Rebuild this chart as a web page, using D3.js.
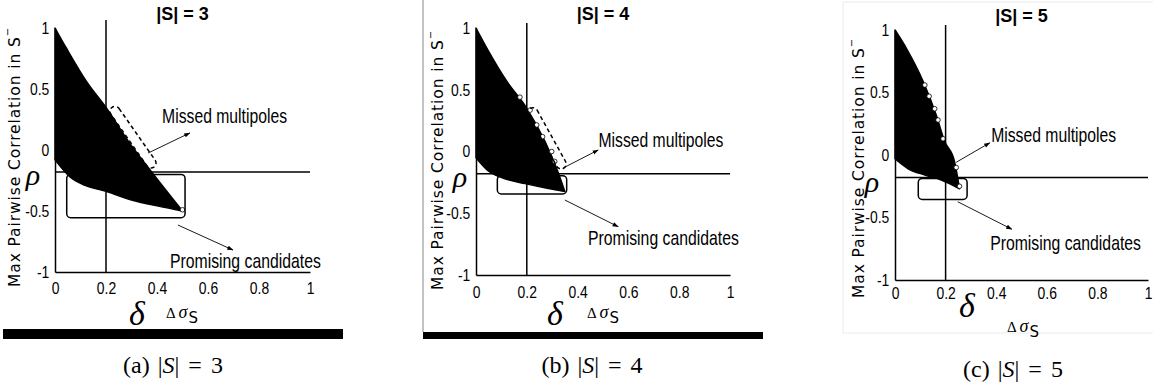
<!DOCTYPE html>
<html>
<head>
<meta charset="utf-8">
<script src="https://cdn.jsdelivr.net/npm/d3@7"></script>
<style>
  body { margin: 0; background: #fff; }
  svg { display: block; }
  .tick text { font-family: "Liberation Sans", Arial, sans-serif; font-size: 17px; fill: #000; }
  .domain { stroke: #000; stroke-width: 1.5px; }
  .ylab { font-family: "DejaVu Sans", sans-serif; font-size: 15.5px; letter-spacing: 0.9px; }
  .title { font-family: "Liberation Sans", Arial, sans-serif; font-weight: bold; font-size: 18px; }
  .note { font-family: "Liberation Sans", Arial, sans-serif; font-size: 20px; }
  .greek { font-family: "Liberation Serif", serif; font-style: italic; }
  .caption { font-family: "Liberation Serif", serif; font-size: 24px; }
</style>
</head>
<body>
<svg id="chart" width="1153" height="387"></svg>
<script>
// values
const setSizes = [3, 4, 5];
const panelNames = ["a", "b", "c"];
const xTicks = [0, 0.2, 0.4, 0.6, 0.8, 1];
const yTicks = [-1, -0.5, 0, 0.5, 1];
const deltaValue = 0.2;
const rhoValues = [-0.18, -0.18, -0.18];

// upper / lower edges of the filled point cloud, [delta sigma, max corr]
const upper3 = [[0, 1], [0.046, 0.83], [0.124, 0.56], [0.203, 0.34], [0.288, 0.07], [0.379, -0.18], [0.5, -0.5]];
const lower3 = [[0, -0.08], [0.059, -0.22], [0.118, -0.29], [0.203, -0.34], [0.3, -0.41], [0.405, -0.46], [0.5, -0.5]];
const upper4 = [[0, 1], [0.042, 0.84], [0.121, 0.57], [0.2, 0.35], [0.272, 0.08], [0.318, -0.14], [0.35, -0.325]];
const lower4 = [[0, -0.05], [0.05, -0.16], [0.114, -0.22], [0.193, -0.26], [0.285, -0.3], [0.35, -0.325]];
const upper5 = [[0, 1], [0.046, 0.85], [0.111, 0.59], [0.163, 0.32], [0.196, 0.11], [0.235, -0.05], [0.255, -0.27]];
const lower5 = [[0, -0.03], [0.052, -0.11], [0.118, -0.16], [0.183, -0.2], [0.255, -0.27]];

// stray points sitting on the cloud edge
const edge3 = [[0.5, -0.49]];
const edge4 = [[0.173, 0.44], [0.213, 0.335], [0.239, 0.215], [0.262, 0.12], [0.298, 0.0], [0.31, -0.08]];
const edge5 = [[0.118, 0.56], [0.135, 0.47], [0.157, 0.37], [0.17, 0.28], [0.19, 0.13], [0.242, -0.1], [0.255, -0.25]];

// "promising candidates" boxes [x0, x1, y0, y1] and "missed" dashed regions [x0, y0, x1, y1]
const promisingBoxes = [[0.046, 0.51, -0.2, -0.555], [0.084, 0.357, -0.196, -0.344], [0.092, 0.285, -0.187, -0.355]];
const missedRegions = [[0.216, 0.35, 0.38, -0.14], [0.206, 0.35, 0.337, -0.136], null];

const upperEdges = [upper3, upper4, upper5];
const lowerEdges = [lower3, lower4, lower5];
const edgePoints = [edge3, edge4, edge5];

// layout of each panel (pixels) and annotation anchors (data units)
const panels = [
  {left: 55, right: 310, top: 28, bottom: 272, tickPad: 10, ylabX: -35, ylabY: 15, titleY: 20,
   deltaTop: 1.066, rhoX: 33, rhoY: 185, deltaX: 137, deltaY: 325, sigX: 166, sigY: 318,
   missArrow: [0.365, -0.025, 0.529, 0.14], missText: [0.42, 0.22],
   promArrow: [0.482, -0.615, 0.698, -0.82], promText: [0.451, -0.967],
   bar: [3, 343, 329, 339], capX: 173, capY: 373},
  {left: 476, right: 730, top: 28, bottom: 275, tickPad: 11, ylabX: -33, ylabY: 15, titleY: 20,
   deltaTop: 1.04, rhoX: 460, rhoY: 187, deltaX: 555, deltaY: 325, sigX: 587, sigY: 318,
   missArrow: [0.341, -0.136, 0.481, 0.012], missText: [0.482, 0.036],
   promArrow: [0.35, -0.393, 0.56, -0.609], promText: [0.441, -0.757],
   bar: [423, 763, 332, 339], leftRule: 423, capX: 592, capY: 373},
  {left: 895, right: 1148, top: 30, bottom: 280, tickPad: 7, ylabX: -31, ylabY: 18, titleY: 22,
   deltaTop: 1.04, rhoX: 872, rhoY: 192, deltaX: 967, deltaY: 317, sigX: 1007, sigY: 332,
   missArrow: [0.242, -0.058, 0.375, 0.098], missText: [0.38, 0.104],
   promArrow: [0.248, -0.374, 0.462, -0.594], promText: [0.376, -0.76],
   frame: [843, 2, 1160, 333], capX: 1013, capY: 377}
];
const noteWidths = {"Missed multipoles": 125, "Promising candidates": 151};

const svg = d3.select("#chart");

svg.append("defs").append("marker")
  .attr("id", "head")
  .attr("viewBox", "0 0 10 10")
  .attr("refX", 9).attr("refY", 5)
  .attr("markerWidth", 7).attr("markerHeight", 7)
  .attr("orient", "auto-start-reverse")
  .append("path").attr("d", "M0,1.5 L10,5 L0,8.5 Z").attr("fill", "#000");

panels.forEach((p, i) => {
  const x = d3.scaleLinear().domain([0, 1]).range([p.left, p.right]);
  const y = d3.scaleLinear().domain([-1, 1]).range([p.bottom, p.top]);
  const g = svg.append("g");

  // decorations around the sub-figure
  if (p.frame) {
    g.append("rect").attr("x", p.frame[0]).attr("y", p.frame[1])
      .attr("width", p.frame[2] - p.frame[0]).attr("height", p.frame[3] - p.frame[1])
      .attr("fill", "none").attr("stroke", "#ececec").attr("stroke-width", 1);
  }
  if (p.leftRule) {
    g.append("line").attr("x1", p.leftRule).attr("x2", p.leftRule)
      .attr("y1", 0).attr("y2", p.bar[2])
      .attr("stroke", "#888").attr("stroke-width", 1);
  }
  if (p.bar) {
    g.append("rect").attr("x", p.bar[0]).attr("y", p.bar[2])
      .attr("width", p.bar[1] - p.bar[0]).attr("height", p.bar[3] - p.bar[2])
      .attr("fill", "#000");
  }

  // point cloud as a filled region: curved upper edge, back along the lower edge
  const edgeLine = d3.line().x(d => x(d[0])).y(d => y(d[1])).curve(d3.curveMonotoneX);
  const upPath = edgeLine(upperEdges[i]);
  const lowPath = edgeLine(lowerEdges[i].slice().reverse());
  g.append("path")
    .attr("d", upPath + "L" + lowPath.slice(1) + "Z")
    .attr("fill", "#000").attr("stroke", "#000").attr("stroke-width", 1.5)
    .attr("stroke-linejoin", "round");

  g.selectAll(".edge")
    .data(edgePoints[i])
    .join("circle")
    .attr("cx", d => x(d[0])).attr("cy", d => y(d[1]))
    .attr("r", 2.3)
    .attr("fill", "#fff").attr("stroke", "#000").attr("stroke-width", 0.8);

  // axes
  const xa = g.append("g")
    .attr("transform", `translate(0,${p.bottom})`)
    .call(d3.axisBottom(x).tickValues(xTicks).tickSize(0).tickPadding(p.tickPad).tickFormat(d => String(d)));
  const ya = g.append("g")
    .attr("transform", `translate(${p.left},0)`)
    .call(d3.axisLeft(y).tickValues(yTicks).tickSize(0).tickPadding(6).tickFormat(d => String(d)));
  // condensed look of the original tick font
  xa.selectAll(".tick text").attr("transform", "scale(0.82,1)");
  ya.selectAll(".tick text").attr("transform", "scale(0.82,1)").attr("x", -7);

  // threshold lines
  g.append("line")
    .attr("x1", x(0)).attr("x2", x(1))
    .attr("y1", y(rhoValues[i])).attr("y2", y(rhoValues[i]))
    .attr("stroke", "#000").attr("stroke-width", 1.5);
  g.append("line")
    .attr("x1", x(deltaValue)).attr("x2", x(deltaValue))
    .attr("y1", y(p.deltaTop)).attr("y2", y(-1) + 1)
    .attr("stroke", "#000").attr("stroke-width", 1.5);

  // promising candidates box
  const b = promisingBoxes[i];
  g.append("rect")
    .attr("x", x(b[0])).attr("y", y(b[2]))
    .attr("width", x(b[1]) - x(b[0])).attr("height", y(b[3]) - y(b[2]))
    .attr("rx", 4).attr("fill", "none").attr("stroke", "#000").attr("stroke-width", 1.5);

  // missed multipoles dashed capsule
  const m = missedRegions[i];
  if (m) {
    const x1 = x(m[0]), y1 = y(m[1]), x2 = x(m[2]), y2 = y(m[3]);
    const len = Math.hypot(x2 - x1, y2 - y1);
    const ang = Math.atan2(y2 - y1, x2 - x1) * 180 / Math.PI;
    const w = 5;
    g.append("rect")
      .attr("transform", `translate(${(x1 + x2) / 2 + 2},${(y1 + y2) / 2}) rotate(${ang})`)
      .attr("x", -len / 2).attr("y", -w).attr("width", len).attr("height", 2 * w)
      .attr("rx", w)
      .attr("fill", "none").attr("stroke", "#000").attr("stroke-width", 1.5)
      .attr("stroke-dasharray", "4,3");
  }

  // arrows + notes (squeezed horizontally like the narrow original font)
  [[p.missArrow, p.missText, "Missed multipoles"], [p.promArrow, p.promText, "Promising candidates"]]
    .forEach(([a, t, label]) => {
      g.append("line")
        .attr("x1", x(a[0])).attr("y1", y(a[1]))
        .attr("x2", x(a[2])).attr("y2", y(a[3]))
        .attr("stroke", "#000").attr("stroke-width", 0.9)
        .attr("marker-end", "url(#head)");
      const note = g.append("text").attr("class", "note").text(label);
      const sx = noteWidths[label] / note.node().getComputedTextLength();
      note.attr("transform", `translate(${x(t[0])},${y(t[1])}) scale(${sx},1)`);
    });

  // title
  g.append("text").attr("class", "title")
    .attr("x", (p.left + p.right) / 2).attr("y", p.titleY)
    .attr("text-anchor", "middle")
    .text(`|S| = ${setSizes[i]}`);

  // y label
  const yl = g.append("text").attr("class", "ylab")
    .attr("transform", `translate(${p.left + p.ylabX},${p.bottom + p.ylabY}) rotate(-90)`);
  yl.append("tspan").text("Max Pairwise Correlation in S");
  yl.append("tspan").attr("font-size", "10px").attr("dy", "-9").text("\u2212");

  // rho / delta symbols
  g.append("text").attr("class", "greek")
    .attr("x", p.rhoX).attr("y", p.rhoY).attr("text-anchor", "middle")
    .attr("font-size", "30px").text("\u03C1");
  g.append("text").attr("class", "greek")
    .attr("x", p.deltaX).attr("y", p.deltaY).attr("text-anchor", "middle")
    .attr("font-size", "34px").text("\u03B4");

  // x label: Δ σ_S
  const xl = g.append("text").attr("x", p.sigX).attr("y", p.sigY)
    .attr("font-family", "Liberation Serif, serif").attr("font-size", "15px");
  xl.append("tspan").text("\u0394 ");
  xl.append("tspan").attr("font-style", "italic").attr("font-size", "18px").text("\u03C3");
  xl.append("tspan").attr("dy", 5).attr("dx", 1)
    .attr("font-family", "DejaVu Sans, sans-serif").attr("font-size", "15px").text("S");

  // caption
  const cap = g.append("text").attr("class", "caption")
    .attr("x", p.capX).attr("y", p.capY).attr("text-anchor", "middle");
  cap.append("tspan").text(`(${panelNames[i]})`);
  cap.append("tspan").attr("dx", 8).text("|");
  cap.append("tspan").attr("font-style", "italic").text("S");
  cap.append("tspan").text("|");
  cap.append("tspan").attr("dx", 9).text("=");
  cap.append("tspan").attr("dx", 9).text(setSizes[i]);
});
</script>
</body>
</html>
